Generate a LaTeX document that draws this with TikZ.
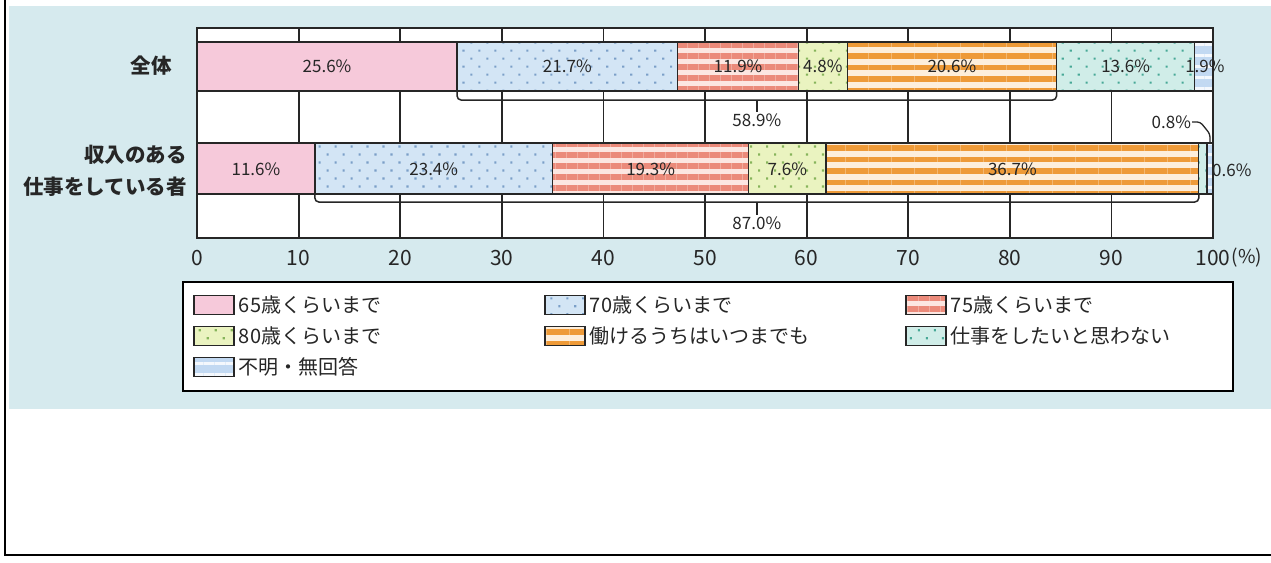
\documentclass[tikz,border=0pt]{standalone}
\usepackage{fontspec}
\setmainfont{Noto Sans CJK JP}
\usetikzlibrary{positioning,patterns.meta}

\definecolor{bgblue}{HTML}{D6EAEE}
\definecolor{c65}{HTML}{F6C9DA}
\definecolor{c70}{HTML}{D3E5F5}
\definecolor{d70}{HTML}{7B9FC8}
\definecolor{c75}{HTML}{FCE6E1}
\definecolor{l75}{HTML}{EB8A7A}
\definecolor{c80}{HTML}{EAF3C0}
\definecolor{d80}{HTML}{86B45A}
\definecolor{cany}{HTML}{FDEEDB}
\definecolor{lany}{HTML}{EE9A38}
\definecolor{cnot}{HTML}{D0EDE8}
\definecolor{dnot}{HTML}{47A896}
\definecolor{cna}{HTML}{C2D9F2}
\definecolor{lna}{HTML}{F4F8FD}
\definecolor{ink}{HTML}{262626}

\tikzset{
  seg/.style={draw=ink, line width=1.4pt},
  age65/.style={seg, fill=c65},
  age70/.style={seg, preaction={fill=c70}, pattern={Dots[distance=11.3pt,angle=45,radius=1.5pt]}, pattern color=d70},
  age75/.style={seg, preaction={fill=c75}, pattern={Lines[distance=11pt,line width=6pt]}, pattern color=l75},
  age80/.style={seg, preaction={fill=c80}, pattern={Dots[distance=11.3pt,angle=45,radius=1.5pt]}, pattern color=d80},
  anyage/.style={seg, preaction={fill=cany}, pattern={Lines[distance=11.5pt,line width=5.5pt]}, pattern color=lany},
  nowork/.style={seg, preaction={fill=cnot}, pattern={Dots[distance=11.3pt,angle=45,radius=1.5pt]}, pattern color=dnot},
  noans/.style={seg, preaction={fill=cna}, pattern={Lines[distance=11pt,line width=3pt]}, pattern color=lna},
  val/.style={font=\fontsize{17}{17}\selectfont, text=ink, inner sep=1pt},
  grid/.style={draw=ink, line width=1.8pt},
  bracket/.style={draw=ink, line width=1.5pt, rounded corners=4pt},
  cat/.style={font=\fontsize{20.5}{32}\selectfont\bfseries, text=ink, align=right, inner sep=0pt},
  swatch/.style={minimum width=40pt, minimum height=19pt, inner sep=0pt, line width=2pt},
  key/.style={font=\fontsize{20}{20}\selectfont, text=ink, inner sep=0pt, anchor=west}
}

\begin{document}
\begin{tikzpicture}[x=1pt,y=-1pt]
  \useasboundingbox (0,0) rectangle (1271,562);
  \fill[bgblue] (9,6) rectangle (1271,409);
  \draw[line width=2pt] (5,0) -- (5,555) -- (1271,555);

  % categories
  \node[cat, anchor=east] (all) at (172,66) {全体};
  \node[cat, anchor=east] (earner) at (187,171) {収入のある\\仕事をしている者};

  \begin{scope}[xshift=197pt, x=10.16pt]
    \fill[white] (0,28) rectangle (100,238);
    \foreach \p in {10,20,...,90}
      \draw[grid] (\p,28) -- (\p,238);
    \draw[grid] (0,28) rectangle (100,238);

    % all respondents
    \path[age65] (0,42) rectangle (25.6,91);
    \path[age70] (25.6,42) rectangle (47.3,91);
    \path[age75] (47.3,42) rectangle (59.2,91);
    \path[age80] (59.2,42) rectangle (64.0,91);
    \path[anyage] (64.0,42) rectangle (84.6,91);
    \path[nowork] (84.6,42) rectangle (98.2,91);
    \path[noans] (98.2,42) rectangle (100,91);

    % people with paid work
    \path[age65] (0,143) rectangle (11.6,194);
    \path[age70] (11.6,143) rectangle (35.0,194);
    \path[age75] (35.0,143) rectangle (54.3,194);
    \path[age80] (54.3,143) rectangle (61.9,194);
    \path[anyage] (61.9,143) rectangle (98.6,194);
    \path[nowork] (98.6,143) rectangle (99.4,194);
    \path[noans] (99.4,143) rectangle (100,194);

    \node[val] (v1a) at (12.8,66) {25.6\%};
    \node[val] (v1b) at (36.45,66) {21.7\%};
    \node[val] (v1c) at (53.25,66) {11.9\%};
    \node[val] (v1d) at (61.6,66) {4.8\%};
    \node[val] (v1e) at (74.3,66) {20.6\%};
    \node[val] (v1f) at (91.4,66) {13.6\%};
    \node[val] (v1g) at (99.2,66) {1.9\%};

    \node[val] (v2a) at (5.8,169) {11.6\%};
    \node[val] (v2b) at (23.3,169) {23.4\%};
    \node[val] (v2c) at (44.65,169) {19.3\%};
    \node[val] (v2d) at (58.1,169) {7.6\%};
    \node[val] (v2e) at (80.25,169) {36.7\%};
    \node[val, anchor=west] (v2g) at (99.8,170) {0.6\%};
    \node[val] (v2f) at (95.9,122) {0.8\%};
    \coordinate (top08) at (99.7,143);
    \draw[bracket, line width=1.3pt, rounded corners=3pt] (v2f.east) -- ++(0.8,0) -- (99.7,134) -- (top08);

    % brackets
    \coordinate (b1l) at (25.6,91);
    \coordinate (b1r) at (84.6,91);
    \coordinate (b1m) at (55.1,100);
    \node[val] (s1) at (55.1,120) {58.9\%};
    \draw[bracket] (b1l) |- (b1m) -| (b1r);
    \draw[bracket] (b1m) -- (s1.north);

    \coordinate (b2l) at (11.6,194);
    \coordinate (b2r) at (98.6,194);
    \coordinate (b2m) at (55.1,202);
    \node[val] (s2) at (55.1,223) {87.0\%};
    \draw[bracket] (b2l) |- (b2m) -| (b2r);
    \draw[bracket] (b2m) -- (s2.north);

    % axis
    \foreach \p in {0,10,...,100}
      \node[font=\fontsize{21}{21}\selectfont, text=ink, inner sep=0pt] (ax\p) at (\p,258) {\p};
  \end{scope}
  \node[font=\fontsize{19}{19}\selectfont, text=ink, inner sep=0pt, right=1pt of ax100] (unit) {(\%)};

  % legend
  \draw[line width=2pt, fill=white] (183,282) rectangle (1233,391);
  \node[swatch, age65] (k65) at (214,305) {};
  \node[key, right=4pt of k65] (t65) {65歳くらいまで};
  \node[swatch, age70] (k70) at (565,305) {};
  \node[key, right=4pt of k70] (t70) {70歳くらいまで};
  \node[swatch, age75] (k75) at (926,305) {};
  \node[key, right=4pt of k75] (t75) {75歳くらいまで};
  \node[swatch, age80] (k80) at (214,336) {};
  \node[key, right=4pt of k80] (t80) {80歳くらいまで};
  \node[swatch, anyage] (kany) at (565,336) {};
  \node[key, right=4pt of kany] (tany) {働けるうちはいつまでも};
  \node[swatch, nowork] (knot) at (926,336) {};
  \node[key, right=4pt of knot] (tnot) {仕事をしたいと思わない};
  \node[swatch, noans] (kna) at (214,367) {};
  \node[key, right=4pt of kna] (tna) {不明・無回答};
\end{tikzpicture}
\end{document}
